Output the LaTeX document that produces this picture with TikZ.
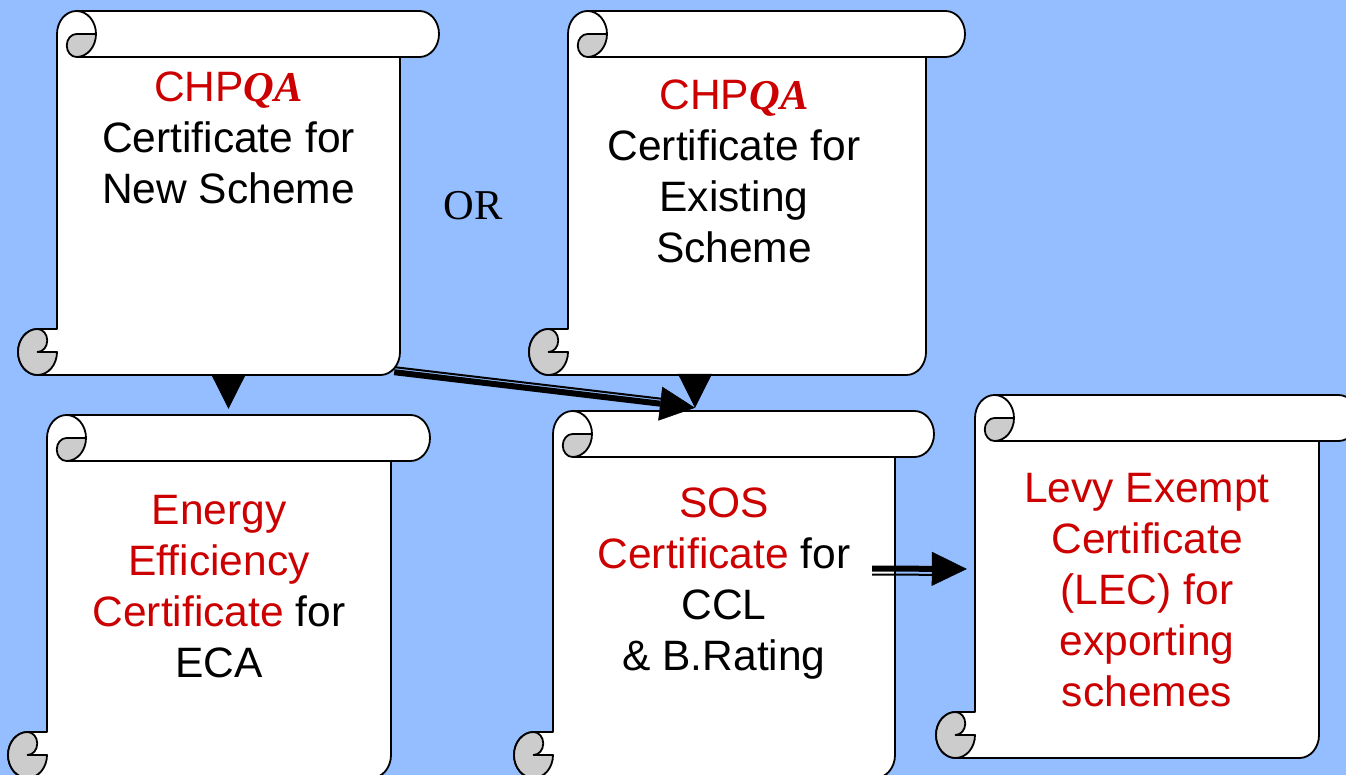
\documentclass[tikz,border=0pt]{standalone}
\usepackage{fontspec}
\setmainfont{Liberation Sans}
\newfontfamily\timesfont{Liberation Serif}
\usetikzlibrary{arrows.meta,positioning,fit}

\definecolor{slideblue}{RGB}{148,190,255}
\definecolor{chpred}{RGB}{204,0,0}
\definecolor{curlgray}{RGB}{204,204,204}

\newcommand{\rd}[1]{\textcolor{chpred}{#1}}
\newcommand{\qa}{{\timesfont\bfseries\itshape QA}}

\tikzset{
  scrollpaper/.style={fill=white, draw=black, line width=1.8pt, line join=round},
  curlpart/.style={fill=curlgray, draw=black, line width=1.8pt, line join=round},
  lbl/.style={font=\fontsize{42.5}{51}\selectfont, align=center, anchor=north, inner sep=0pt},
  droptip/.style={-{Triangle[length=34pt,width=34pt]}, line width=1pt},
  thickline/.style={line width=6pt, -{Triangle[length=35pt,width=34pt,line width=0.5pt]}},
  thinline/.style={line width=2pt, shorten >=34pt},
}

\begin{document}
\begin{tikzpicture}[x=1pt, y=-1pt]

      \useasboundingbox (0,0) rectangle (1346,775);
      \fill[slideblue] (0,0) rectangle (1346,775);

      % scrolls: name/left/top/right/bottom
      \foreach \nm/\xl/\yt/\xr/\yb in {s1/18/11/439/375, s2/529/11/965/375, s3/8/415/430/778, s4/514/411/934/778, s5/936/395/1358/758} {
          \draw[scrollpaper] ({\xl+19.5},{\yb-46}) -- ({\xl+39},{\yb-46}) -- ({\xl+39},{\yt+23})
            arc[start angle=180, end angle=270, x radius=19.5, y radius=23] -- ({\xr-19.5},\yt)
            arc[start angle=270, end angle=450, x radius=19.5, y radius=23] -- ({\xr-39},{\yt+46})
            -- ({\xr-39},{\yb-23})
            arc[start angle=0, end angle=90, x radius=19.5, y radius=23] -- ({\xl+19.5},\yb)
            arc[start angle=90, end angle=270, x radius=19.5, y radius=23] -- cycle;
          \draw[line width=1.8pt] ({\xl+58.5},{\yt+46}) -- ({\xr-39},{\yt+46});
          \draw[line width=1.8pt] ({\xl+58.5},\yt) arc[start angle=270, end angle=360, x radius=19.5, y radius=23];
          \draw[curlpart] ({\xl+58.5},{\yt+23}) -- ({\xl+78},{\yt+23})
            arc[start angle=0, end angle=90, x radius=19.5, y radius=23]
            arc[start angle=90, end angle=270, x radius=9.75, y radius=11.5] -- cycle;
          \draw[curlpart] ({\xl+19.5},{\yb-46})
            arc[start angle=270, end angle=90, x radius=19.5, y radius=23]
            arc[start angle=90, end angle=0, x radius=19.5, y radius=23] -- ({\xl+19.5},{\yb-23})
            arc[start angle=90, end angle=-90, x radius=9.75, y radius=11.5] -- cycle;
          \node[fit={(\xl,\yt) (\xr,\yb)}, inner sep=0pt] (\nm) {};
        }

      \node[lbl] (newcert) at ([yshift=-61pt]s1.north) {\rd{CHP\qa}\\Certificate for\\New Scheme};
      \node[lbl] (oldcert) at ([xshift=-13pt,yshift=-69pt]s2.north) {\rd{CHP\qa}\\Certificate for\\Existing\\Scheme};
      \node[lbl] (ecacert) at ([yshift=-80pt]s3.north) {\rd{Energy}\\\rd{Efficiency}\\\rd{Certificate} for\\ECA};
      \node[lbl] (soscert) at ([yshift=-77pt]s4.north) {\rd{SOS}\\\rd{Certificate} for\\CCL\\\& B.Rating};
      \node[lbl] (leccert) at ([yshift=-78pt]s5.north) {\rd{Levy Exempt}\\\rd{Certificate}\\\rd{(LEC) for}\\\rd{exporting}\\\rd{schemes}};
      \node[font=\timesfont\fontsize{42.5}{51}\selectfont, anchor=west, inner sep=0pt] (ortxt) at ([xshift=4pt,yshift=-13pt]s1.east) {OR};

      \coordinate (meet) at ([xshift=-29pt,yshift=3pt]s4.north);
      \draw[droptip, shorten >=6pt] (s1.south) -- (s1.south |- s3.north);
      \draw[droptip] (meet |- s2.south) -- (meet);
      \draw[thickline] ([xshift=-45pt,yshift=3pt]s1.south east) -- (meet);
      \draw[thinline, transform canvas={shift={(0.7pt,5pt)}}] ([xshift=-45pt,yshift=3pt]s1.south east) -- (meet);
      \draw[thickline] ([xshift=-62pt,yshift=26pt]s4.east) -- ([xshift=31pt,yshift=7.5pt]s5.west);
      \draw[thinline, transform canvas={yshift=-6pt}] ([xshift=-62pt,yshift=26pt]s4.east) -- ([xshift=31pt,yshift=7.5pt]s5.west);

    \end{tikzpicture}
\end{document}
